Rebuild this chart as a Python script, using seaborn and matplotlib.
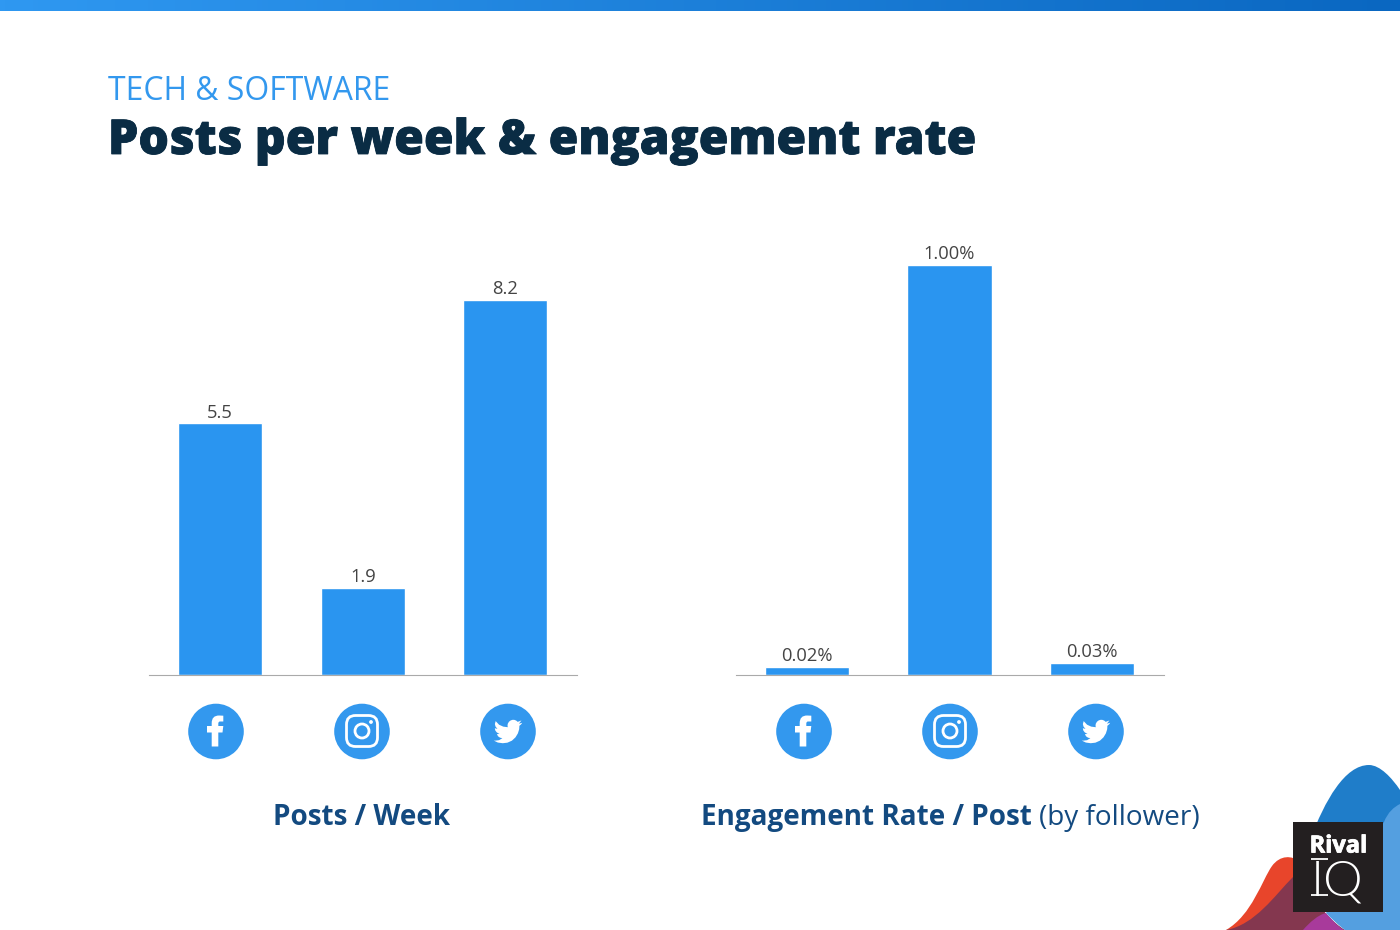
import numpy as np
import pandas as pd
import matplotlib
matplotlib.use('Agg')
import matplotlib.pyplot as plt
import matplotlib.patheffects as pe
from matplotlib.patches import Circle, FancyBboxPatch, PathPatch, Polygon, Rectangle
from matplotlib.path import Path
import seaborn as sns

networks = ['Facebook', 'Instagram', 'Twitter']
posts_per_week = [5.5, 1.9, 8.2]
posts_labels = ['5.5', '1.9', '8.2']
engagement_rate = [0.02, 1.00, 0.03]
engagement_labels = ['0.02%', '1.00%', '0.03%']

BAR_BLUE = '#2a95f0'
ICON_BLUE = '#3398ee'
NAVY = '#0a2c44'
LABEL_BLUE = '#134a80'

sns.set_theme(style='white')
plt.rcParams['font.family'] = ['Open Sans', 'DejaVu Sans']

W, H = 1400, 930
fig = plt.figure(figsize=(14, 9.3), dpi=100, facecolor='white')


def add_panel(left, values, labels, ymax):
    # axes rectangle given in pixels, baseline sits at y=675
    ax = fig.add_axes([left / W, (H - 675) / H, 428 / W, 475 / H])
    df = pd.DataFrame({'network': networks, 'value': values})
    sns.barplot(data=df, x='network', y='value', color=BAR_BLUE, saturation=1,
                width=0.589, ax=ax)
    ax.set_xlim(-0.5, 2.5)
    ax.set_ylim(0, ymax)
    ax.bar_label(ax.containers[0], labels=labels, padding=1.2, fontsize=13.2, color='#444444')
    ax.set_xlabel('')
    ax.set_ylabel('')
    ax.set_xticks([])
    ax.set_yticks([])
    sns.despine(ax=ax, left=True)
    ax.spines['bottom'].set_color('#aaaaaa')
    ax.spines['bottom'].set_linewidth(0.8)
    return ax


# 375px high for 8.2 posts, 410px high for 1.00%
ax1 = add_panel(148.8, posts_per_week, posts_labels, 8.2 * 475 / 375)
ax2 = add_panel(735.5, engagement_rate, engagement_labels, 1.0 * 475 / 410)

# overlay in pixel coordinates for header, icons and logo
ov = fig.add_axes([0, 0, 1, 1], zorder=5)
ov.set_xlim(0, W)
ov.set_ylim(H, 0)
ov.axis('off')
ov.patch.set_alpha(0)

# top gradient band
top_cmap = matplotlib.colors.LinearSegmentedColormap.from_list('band', ['#2f98f1', '#0a67c1'])
ov.imshow(np.linspace(0, 1, 256).reshape(1, -1), cmap=top_cmap, extent=(0, W, 11, 0), aspect='auto')
ov.set_xlim(0, W)
ov.set_ylim(H, 0)

ov.text(108, 92, 'TECH & SOFTWARE', fontsize=22.95, fontweight='regular', color=ICON_BLUE,
        va='center', ha='left')
ov.text(108, 142, 'Posts per week & engagement rate', fontsize=34.6, fontweight=800, color=NAVY,
        va='center', ha='left', path_effects=[pe.withStroke(linewidth=0.6, foreground=NAVY)])

ov.text(362, 817.5, 'Posts / Week', fontsize=20.1, fontweight='bold', color=LABEL_BLUE,
        va='center', ha='center')
ov.text(1032, 817.5, 'Engagement Rate / Post', fontsize=20.1, fontweight='bold', color=LABEL_BLUE,
        va='center', ha='right')
ov.text(1039, 817.5, '(by follower)', fontsize=20.1, color=LABEL_BLUE, va='center', ha='left')

f_verts = [(-4.3, 15), (2.3, 15), (2.3, 1), (6.5, 1), (7.3, -5.5), (2.3, -5.5), (2.3, -8),
           (2.3, -10), (4, -10), (7.3, -10), (7.3, -15.8), (3, -16), (-4.3, -16), (-4.3, -8.5),
           (-4.3, -5.5), (-9, -5.5), (-9, 1), (-4.3, 1), (-4.3, 15)]
f_codes = [Path.MOVETO] + [Path.LINETO] * 6 + [Path.CURVE3] * 2 + [Path.LINETO] * 3 \
    + [Path.CURVE3] * 2 + [Path.LINETO] * 5


def facebook_icon(cx, cy):
    ov.add_patch(Circle((cx, cy), 27.8, fc=ICON_BLUE, ec='none'))
    pts = [(cx + x, cy + y) for x, y in f_verts]
    ov.add_patch(PathPatch(Path(pts, f_codes), fc='white', ec='none'))


def instagram_icon(cx, cy):
    ov.add_patch(Circle((cx, cy), 27.8, fc=ICON_BLUE, ec='none'))
    ov.add_patch(FancyBboxPatch((cx - 10.5, cy - 11), 21, 21, boxstyle='round,pad=5,rounding_size=9',
                                fc='none', ec='white', lw=2))
    ov.add_patch(Circle((cx, cy - 0.5), 7, fc='none', ec='white', lw=2))
    ov.add_patch(Circle((cx + 9, cy - 9.5), 1.9, fc='white', ec='none'))


bird = [(23.95, 4.57), (21.13, 5.35), (23.29, 2.62), (20.16, 3.81), (19, 2.8), (17.5, 2.15), (16, 2.05),
        (14.3, 2.55), (12.8, 3.7), (11.8, 5.4), (11.6, 7), (11.8, 8.3), (8, 7.8), (4.5, 6.2), (1.64, 3.16),
        (0.97, 5.64), (1.5, 7.7), (3.16, 9.73), (0.93, 9.12), (0.93, 9.18), (1.3, 11), (2.5, 12.6),
        (4.88, 14), (2.67, 14.09), (3.6, 15.9), (5.3, 17.1), (7.27, 17.5), (4.5, 19.2), (1.17, 19.6),
        (0, 19.54), (3.5, 21.2), (7.56, 21.75), (11.5, 21.3), (15.3, 19.6), (18.3, 16.8), (20.3, 13.5),
        (21.4, 10), (21.55, 7.77), (21.54, 7.14), (23.0, 5.9)]


def twitter_icon(cx, cy):
    ov.add_patch(Circle((cx, cy), 27.8, fc=ICON_BLUE, ec='none'))
    pts = [(cx + (x - 12) * 1.19, cy + (y - 11.9) * 1.19) for x, y in bird]
    ov.add_patch(Polygon(pts, closed=True, fc='white', ec='none'))


for offset in [0, 588]:
    facebook_icon(216 + offset, 731.5)
    instagram_icon(362 + offset, 731.5)
    twitter_icon(508 + offset, 731.5)


def blob(points, color):
    codes = [Path.MOVETO] + [Path.CURVE4] * (len(points) - 1)
    ov.add_patch(PathPatch(Path(points, codes), fc=color, ec='none'))


# corner shapes behind the logo
blob([(1226, 930), (1252, 915), (1262, 880), (1272, 866),
      (1280, 855), (1292, 855), (1300, 862),
      (1310, 880), (1310, 930), (1226, 930)], '#e8452b')
blob([(1226, 930), (1255, 925), (1275, 895), (1293, 877),
      (1310, 885), (1320, 915), (1345, 930),
      (1300, 930), (1260, 930), (1226, 930)], '#84374f')
blob([(1310, 840), (1325, 800), (1345, 765), (1369, 765),
      (1380, 765), (1392, 778), (1400, 790),
      (1400, 930), (1400, 930), (1345, 930)], '#1f7dc9')
blob([(1326, 913), (1326, 913), (1340, 930), (1345, 930),
      (1345, 930), (1303, 930), (1303, 930),
      (1310, 922), (1318, 915), (1326, 913)], '#a83a9b')
blob([(1384, 822), (1388, 812), (1394, 807), (1400, 804),
      (1400, 850), (1400, 900), (1400, 930),
      (1380, 930), (1360, 930), (1345, 930),
      (1338, 925), (1332, 919), (1326, 913)], '#549fe0')
ov.add_patch(Rectangle((1293, 822), 90, 90, fc='#231f20', ec='none', zorder=4))
ov.text(1338.5, 852.5, 'Rival', fontsize=17, fontweight='bold', color='white', va='baseline', ha='center',
        zorder=5, path_effects=[pe.withStroke(linewidth=0.6, foreground='white')])
ov.text(1337.5, 895, 'IQ', fontsize=36, fontweight=300, color='white', va='baseline', ha='center',
        family=['Lato', 'DejaVu Sans'], zorder=5)
# serifs on the logo I
for serif_y in [859, 894.5]:
    ov.plot([1311, 1328], [serif_y, serif_y], color='white', lw=1.3, zorder=5, solid_capstyle='butt')

fig.savefig('out.png', dpi=100, facecolor='white')
